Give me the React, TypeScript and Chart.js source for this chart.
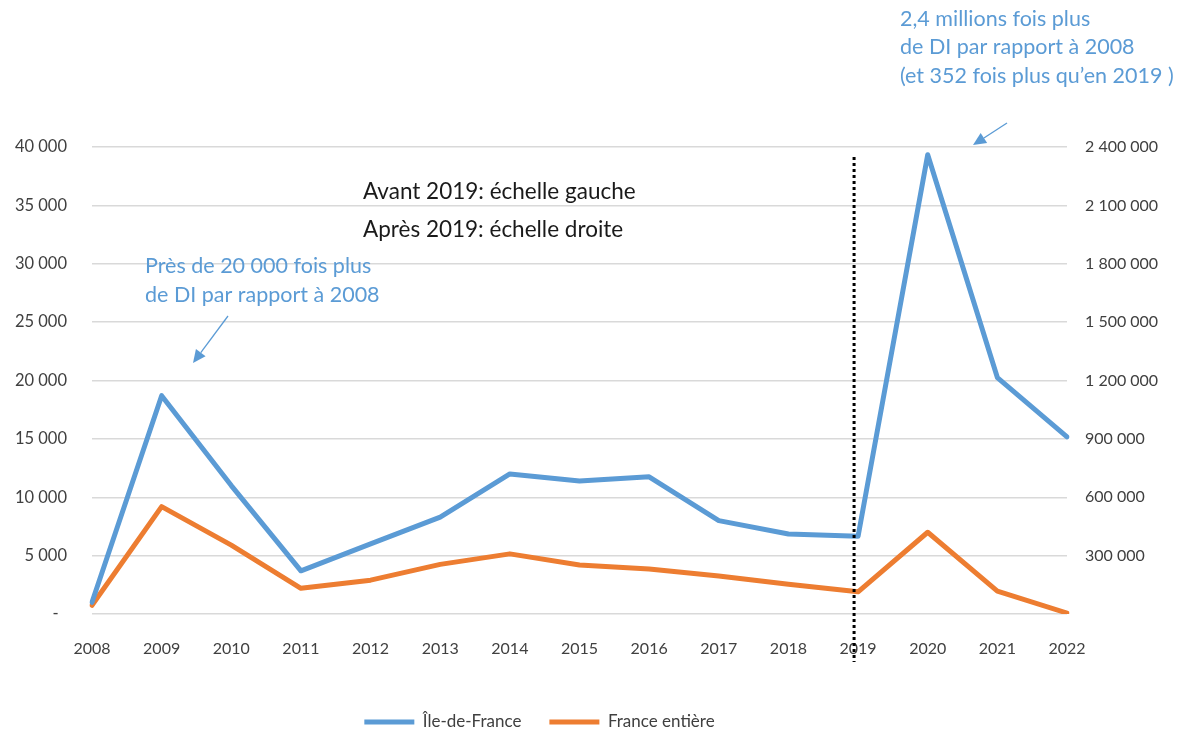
import React, { useEffect, useRef } from 'react';
import { Chart, registerables } from 'chart.js';

Chart.register(...registerables);

// ---- Data ----
const years = ['2008', '2009', '2010', '2011', '2012', '2013', '2014', '2015', '2016', '2017', '2018', '2019', '2020', '2021', '2022'];
const seriesNames = ['Île-de-France', 'France entière'];

// Before/at 2019: read on the left scale
const idfUntil2019 = [1000, 18700, 11000, 3700, 6000, 8300, 12000, 11400, 11750, 8000, 6850, 6650];
const franceUntil2019 = [750, 9200, 5900, 2200, 2900, 4250, 5150, 4200, 3850, 3250, 2550, 1900];
// After 2019: read on the right scale
const idfFrom2020 = [2360000, 1215000, 910000];
const franceFrom2020 = [420000, 118000, 5000];

const leftTickValues = [0, 5000, 10000, 15000, 20000, 25000, 30000, 35000, 40000];
const rightTickValues = [0, 300000, 600000, 900000, 1200000, 1500000, 1800000, 2100000, 2400000];

const dividerYear = '2019';
const scaleNote = ['Avant 2019: échelle gauche', 'Après 2019: échelle droite'];
const note2009 = ['Près de 20 000 fois plus', 'de DI par rapport à 2008'];
const note2020 = ['2,4 millions fois plus', 'de DI par rapport à 2008', '(et 352 fois plus qu\u2019en 2019 )'];

// ---- Styles ----
const BLUE = '#5B9BD5';
const ORANGE = '#ED7D31';
const TICK_COLOR = '#404040';
const FONT = 'Lato, "Open Sans", sans-serif';

const leftMax = leftTickValues[leftTickValues.length - 1];
const rightMax = rightTickValues[rightTickValues.length - 1];
const ratio = rightMax / leftMax;

const fmt = (v: number) => String(Math.round(v)).replace(/\B(?=(\d{3})+(?!\d))/g, ' ');

function drawArrow(ctx: CanvasRenderingContext2D, x1: number, y1: number, x2: number, y2: number, color: string) {
  const ang = Math.atan2(y2 - y1, x2 - x1);
  const head = 13;
  const half = 6;
  const bx = x2 - head * Math.cos(ang);
  const by = y2 - head * Math.sin(ang);
  ctx.save();
  ctx.strokeStyle = color;
  ctx.fillStyle = color;
  ctx.lineWidth = 1.3;
  ctx.beginPath();
  ctx.moveTo(x1, y1);
  ctx.lineTo(bx, by);
  ctx.stroke();
  ctx.beginPath();
  ctx.moveTo(x2, y2);
  ctx.lineTo(bx + half * Math.sin(ang), by - half * Math.cos(ang));
  ctx.lineTo(bx - half * Math.sin(ang), by + half * Math.cos(ang));
  ctx.closePath();
  ctx.fill();
  ctx.restore();
}

const annotationPlugin = {
  id: 'annotations',
  afterLayout(chart: any) {
    // let the right-hand tick labels extend to the canvas edge (labels are clipped to the scale box)
    const y2 = chart.scales.y2;
    if (y2) y2.right = chart.width;
  },
  afterDatasetsDraw(chart: any) {
    const ctx: CanvasRenderingContext2D = chart.ctx;
    const x = chart.scales.x.getPixelForValue(years.indexOf(dividerYear)) - 4;
    ctx.save();
    ctx.strokeStyle = '#000000';
    ctx.lineWidth = 3;
    ctx.setLineDash([3, 3]);
    ctx.beginPath();
    ctx.moveTo(x, 157);
    ctx.lineTo(x, 662);
    ctx.stroke();
    ctx.restore();
  },
  afterDraw(chart: any) {
    const ctx: CanvasRenderingContext2D = chart.ctx;
    ctx.save();
    ctx.textBaseline = 'middle';
    ctx.textAlign = 'left';

    ctx.fillStyle = '#1a1a1a';
    ctx.font = `22.5px ${FONT}`;
    ctx.fillText(scaleNote[0], 363, 192);
    ctx.fillText(scaleNote[1], 363, 230);

    ctx.fillStyle = BLUE;
    ctx.font = `21.5px ${FONT}`;
    ctx.fillText(note2009[0], 145, 266);
    ctx.fillText(note2009[1], 145, 295);

    ctx.fillText(note2020[0], 900, 19);
    ctx.fillText(note2020[1], 900, 47);
    ctx.fillText(note2020[2], 900, 76);
    ctx.restore();

    drawArrow(ctx, 228, 316, 193, 363, BLUE);
    drawArrow(ctx, 1007, 123, 973, 145, BLUE);
  },
};

export default function App() {
  const canvasRef = useRef<HTMLCanvasElement | null>(null);

  useEffect(() => {
    document.body.style.margin = '0';
    const canvas = canvasRef.current;
    if (!canvas) return;

    const idfData = [...idfUntil2019, ...idfFrom2020.map((v) => v / ratio)];
    const franceData = [...franceUntil2019, ...franceFrom2020.map((v) => v / ratio)];

    const lineStyle = {
      borderWidth: 5,
      pointRadius: 0,
      pointHoverRadius: 0,
      tension: 0,
      borderJoinStyle: 'round' as const,
      borderCapStyle: 'round' as const,
      yAxisID: 'y',
    };

    const chart = new Chart(canvas, {
      type: 'line',
      data: {
        labels: years,
        datasets: [
          { label: seriesNames[0], data: idfData, borderColor: BLUE, backgroundColor: BLUE, ...lineStyle },
          { label: seriesNames[1], data: franceData, borderColor: ORANGE, backgroundColor: ORANGE, ...lineStyle },
        ],
      },
      options: {
        responsive: false,
        animation: false,
        layout: { padding: { top: 147, right: 100, bottom: 4.5, left: 0 } },
        plugins: {
          legend: {
            position: 'bottom',
            labels: {
              usePointStyle: true,
              pointStyle: 'line',
              pointStyleWidth: 50,
              padding: 28,
              color: TICK_COLOR,
              font: { family: FONT, size: 17 },
            },
          },
          tooltip: { enabled: false },
        },
        scales: {
          x: {
            type: 'category',
            offset: false,
            grid: { display: false, drawTicks: false },
            border: { display: false },
            ticks: { color: TICK_COLOR, font: { family: FONT, size: 16 }, padding: 25, autoSkip: false, maxRotation: 0 },
            afterFit: (s: any) => { s.height = 71.5; },
          },
          y: {
            position: 'left',
            min: leftTickValues[0],
            max: leftMax,
            grid: { color: '#d9d9d9', lineWidth: 1.5, drawTicks: false },
            border: { display: false },
            ticks: {
              stepSize: leftTickValues[1] - leftTickValues[0],
              padding: 25,
              color: TICK_COLOR,
              font: { family: FONT, size: 16.5 },
              callback: (v: any) => (Number(v) === 0 ? '-  ' : fmt(Number(v))),
            },
            afterFit: (s: any) => { s.width = 92; },
          },
          y2: {
            position: 'right',
            display: true,
            min: rightTickValues[0],
            max: rightMax,
            grid: { display: false, drawTicks: false },
            border: { display: false },
            ticks: {
              stepSize: rightTickValues[1] - rightTickValues[0],
              padding: 18,
              color: TICK_COLOR,
              font: { family: FONT, size: 16 },
              callback: (v: any) => (Number(v) === 0 ? '' : fmt(Number(v))),
            },
            afterFit: (s: any) => { s.width = 12; },
          },
        },
      } as any,
      plugins: [annotationPlugin],
    });

    return () => chart.destroy();
  }, []);

  return (
    <div style={{ width: 1179, height: 734, overflow: 'hidden', position: 'relative', background: '#ffffff' }}>
      <canvas ref={canvasRef} width={1179} height={745} style={{ display: 'block' }} />
    </div>
  );
}
